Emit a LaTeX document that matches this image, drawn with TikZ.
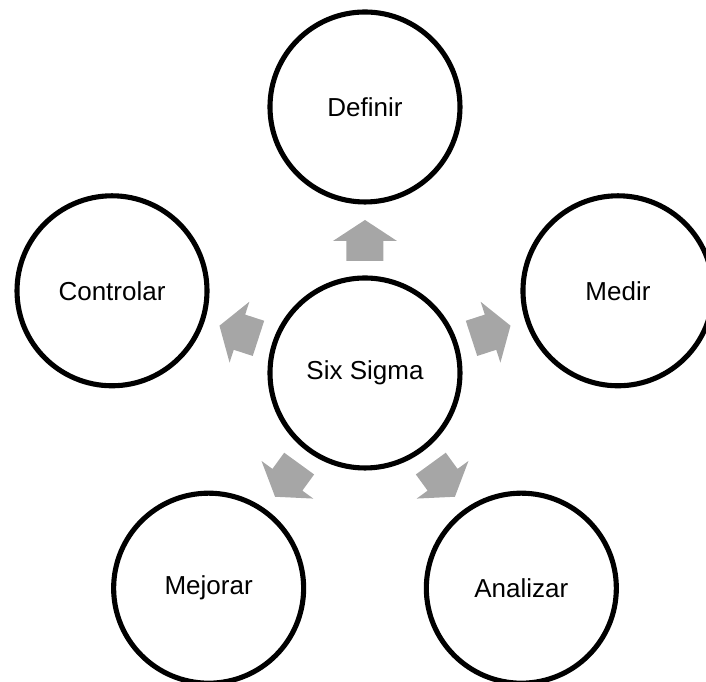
\documentclass[tikz,border=0pt]{standalone}
\usepackage{fontspec}
\setmainfont{Liberation Sans}
\usepackage{tikz}
\usepackage{color}

\begin{document}
\begin{tikzpicture}
            \tikzstyle{main node}=[draw,circle,align=center,line width=1.45pt,minimum size=1.9cm,inner sep=0pt,font=\fontsize{7.4}{9}\selectfont]
            \tikzstyle{block arrow}=[fill=black!35,draw=none]
            \useasboundingbox (-3.65,-3.09) rectangle (3.41,3.73);

            \node[main node] (S) at (0,0) {Six Sigma};
            \node[main node] (D) at (90:2.66) {Definir};
            \node[main node] (M) at (18:2.66) {Medir};
            \node[main node] (A) at (-54:2.66) {Analizar};
            \node[main node] (J) at (-126:2.66) {Mejorar};
            \node[main node] (C) at (162:2.66) {Controlar};

            \foreach \a in {90,18,-54,-126,162}
                \fill[block arrow,shift={(S.center)},rotate=\a] (1.12,-0.185) -- (1.32,-0.185) -- (1.32,-0.32) -- (1.53,0) -- (1.32,0.32) -- (1.32,0.185) -- (1.12,0.185) -- cycle;
        \end{tikzpicture}
\end{document}
